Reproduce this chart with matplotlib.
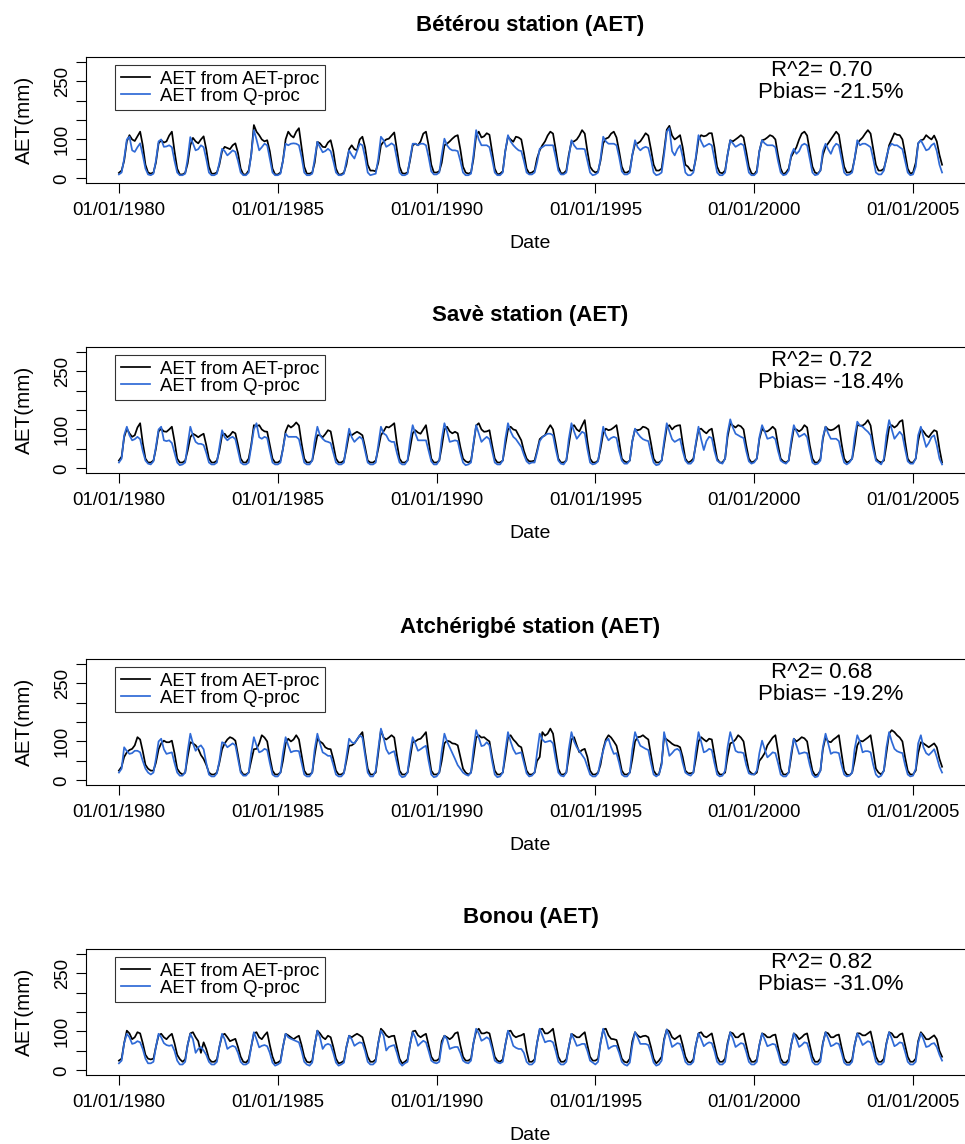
import numpy as np
import pandas as pd
import matplotlib
matplotlib.use("Agg")
import matplotlib.pyplot as plt

plt.rcParams['font.family'] = ['Liberation Sans', 'DejaVu Sans']

# monthly AET (mm), one row per year 1980..2005, Jan..Dec
beterou_aet = [
    [14, 20, 45, 95, 111, 100, 96, 108, 120, 85, 35, 15],
    [12, 15, 40, 90, 98, 92, 95, 110, 120, 70, 25, 10],
    [10, 14, 38, 85, 104, 95, 90, 100, 108, 75, 30, 12],
    [12, 15, 35, 70, 81, 78, 75, 85, 90, 65, 25, 10],
    [10, 20, 60, 137, 120, 111, 100, 95, 98, 70, 25, 10],
    [10, 15, 45, 100, 120, 110, 105, 120, 129, 80, 30, 12],
    [12, 15, 40, 94, 90, 81, 80, 92, 98, 70, 25, 10],
    [10, 15, 35, 75, 85, 75, 72, 100, 107, 80, 35, 20],
    [20, 18, 40, 85, 94, 100, 102, 110, 118, 75, 30, 13],
    [12, 15, 45, 85, 89, 85, 95, 115, 120, 85, 35, 15],
    [15, 18, 40, 85, 89, 95, 102, 108, 111, 75, 30, 15],
    [12, 15, 50, 110, 120, 105, 108, 116, 112, 70, 25, 10],
    [12, 18, 70, 107, 100, 94, 107, 105, 100, 65, 25, 13],
    [15, 20, 51, 72, 85, 95, 110, 120, 115, 75, 30, 13],
    [13, 20, 60, 94, 95, 100, 110, 124, 115, 70, 30, 20],
    [15, 18, 45, 90, 102, 105, 115, 120, 105, 70, 30, 15],
    [15, 20, 60, 89, 90, 95, 105, 116, 110, 75, 35, 20],
    [20, 25, 70, 125, 135, 110, 100, 105, 111, 80, 35, 30],
    [20, 20, 50, 100, 111, 108, 110, 116, 116, 80, 30, 15],
    [13, 20, 60, 98, 95, 100, 105, 111, 105, 70, 30, 13],
    [10, 20, 70, 98, 100, 105, 111, 108, 100, 60, 25, 10],
    [15, 25, 55, 68, 80, 100, 115, 120, 110, 70, 30, 15],
    [12, 20, 60, 81, 90, 100, 110, 120, 112, 70, 30, 15],
    [15, 20, 50, 90, 98, 105, 115, 124, 115, 75, 35, 20],
    [20, 25, 50, 85, 100, 116, 112, 111, 100, 65, 25, 12],
    [15, 40, 90, 98, 100, 111, 105, 100, 110, 95, 60, 35],
]
beterou_q = [
    [10, 15, 50, 100, 107, 72, 68, 80, 90, 60, 25, 10],
    [8, 12, 45, 95, 100, 81, 82, 85, 80, 45, 15, 8],
    [8, 12, 50, 106, 90, 72, 75, 85, 80, 50, 15, 8],
    [8, 12, 40, 76, 70, 59, 65, 72, 68, 45, 15, 8],
    [8, 15, 60, 124, 100, 72, 80, 89, 85, 50, 15, 8],
    [8, 12, 45, 89, 85, 89, 90, 89, 85, 55, 15, 8],
    [8, 12, 50, 94, 80, 67, 70, 76, 70, 45, 15, 8],
    [8, 12, 45, 72, 60, 51, 70, 89, 85, 55, 15, 8],
    [10, 12, 50, 107, 98, 81, 85, 90, 85, 50, 15, 8],
    [8, 12, 50, 89, 89, 85, 89, 89, 85, 55, 18, 10],
    [10, 15, 60, 102, 85, 76, 72, 72, 70, 45, 15, 8],
    [8, 12, 60, 124, 100, 85, 85, 85, 80, 50, 15, 8],
    [8, 15, 70, 111, 95, 85, 78, 72, 70, 45, 15, 10],
    [10, 15, 40, 76, 80, 85, 85, 85, 85, 55, 20, 10],
    [10, 15, 55, 98, 85, 76, 76, 76, 75, 45, 15, 8],
    [10, 15, 50, 107, 95, 89, 89, 89, 85, 55, 18, 10],
    [10, 15, 60, 98, 80, 72, 78, 81, 78, 50, 15, 8],
    [10, 15, 60, 120, 129, 70, 59, 75, 85, 55, 15, 8],
    [8, 15, 55, 111, 95, 81, 85, 89, 85, 50, 15, 8],
    [8, 15, 60, 98, 90, 81, 85, 89, 85, 50, 15, 8],
    [8, 15, 70, 98, 90, 85, 85, 85, 80, 45, 15, 8],
    [10, 20, 60, 76, 63, 70, 85, 89, 85, 50, 15, 8],
    [10, 20, 70, 89, 75, 63, 80, 89, 85, 50, 15, 8],
    [10, 15, 50, 98, 85, 89, 89, 85, 80, 50, 15, 10],
    [10, 20, 55, 80, 89, 85, 85, 80, 75, 45, 15, 8],
    [10, 30, 90, 98, 85, 72, 75, 85, 90, 70, 35, 15],
]
save_aet = [
    [20, 30, 80, 102, 90, 81, 85, 105, 116, 65, 25, 15],
    [15, 20, 50, 95, 102, 95, 94, 100, 107, 70, 25, 15],
    [15, 20, 45, 80, 89, 85, 80, 85, 89, 60, 25, 15],
    [15, 20, 45, 85, 89, 80, 85, 94, 90, 60, 25, 15],
    [15, 25, 60, 111, 108, 111, 100, 95, 94, 60, 25, 15],
    [15, 20, 50, 95, 111, 105, 110, 118, 110, 65, 25, 15],
    [15, 20, 50, 85, 85, 80, 88, 98, 95, 60, 25, 15],
    [15, 20, 50, 89, 85, 90, 94, 90, 85, 55, 20, 15],
    [15, 20, 50, 85, 95, 107, 105, 110, 116, 65, 25, 15],
    [15, 20, 50, 90, 98, 92, 89, 100, 111, 70, 25, 15],
    [15, 20, 55, 100, 107, 95, 90, 94, 90, 55, 25, 18],
    [15, 20, 60, 110, 116, 100, 94, 95, 98, 60, 25, 15],
    [15, 20, 60, 100, 107, 100, 98, 85, 72, 45, 25, 18],
    [18, 20, 45, 75, 81, 85, 100, 111, 100, 65, 25, 15],
    [15, 20, 60, 105, 111, 100, 95, 110, 124, 70, 25, 15],
    [15, 20, 50, 90, 102, 98, 100, 105, 111, 70, 25, 18],
    [15, 20, 70, 100, 98, 100, 107, 105, 100, 65, 25, 15],
    [15, 20, 60, 105, 111, 100, 107, 110, 111, 65, 25, 15],
    [18, 25, 60, 100, 102, 95, 90, 98, 102, 65, 25, 15],
    [15, 25, 80, 116, 110, 105, 111, 108, 100, 60, 25, 15],
    [18, 25, 75, 102, 95, 95, 100, 107, 100, 60, 25, 18],
    [15, 20, 60, 102, 100, 95, 100, 111, 105, 60, 25, 15],
    [15, 25, 75, 107, 100, 98, 100, 105, 111, 65, 25, 15],
    [18, 25, 60, 111, 110, 110, 115, 124, 110, 65, 25, 18],
    [15, 20, 60, 105, 111, 105, 110, 120, 124, 70, 25, 15],
    [15, 25, 70, 102, 95, 85, 80, 90, 98, 95, 50, 15],
]
save_q = [
    [15, 25, 85, 107, 85, 72, 75, 81, 75, 45, 20, 12],
    [10, 18, 55, 100, 107, 72, 70, 72, 65, 40, 15, 8],
    [10, 15, 60, 107, 85, 68, 63, 63, 60, 40, 15, 10],
    [10, 15, 55, 98, 80, 72, 78, 81, 75, 45, 15, 10],
    [10, 15, 55, 100, 116, 80, 76, 81, 78, 45, 15, 10],
    [10, 15, 50, 89, 81, 81, 81, 81, 75, 45, 15, 10],
    [10, 20, 70, 107, 85, 76, 70, 68, 65, 40, 15, 10],
    [10, 15, 60, 102, 80, 68, 75, 81, 75, 45, 15, 10],
    [10, 15, 60, 107, 90, 85, 72, 68, 68, 40, 15, 10],
    [10, 20, 70, 111, 90, 72, 72, 72, 72, 45, 18, 10],
    [10, 20, 75, 116, 95, 68, 70, 72, 70, 40, 15, 8],
    [10, 15, 65, 111, 90, 68, 75, 81, 75, 45, 15, 10],
    [10, 20, 75, 116, 95, 81, 75, 65, 55, 35, 18, 12],
    [15, 15, 40, 70, 80, 85, 89, 89, 85, 50, 20, 12],
    [10, 20, 75, 116, 95, 76, 85, 94, 90, 50, 15, 10],
    [12, 18, 60, 107, 85, 72, 78, 81, 78, 45, 20, 12],
    [12, 20, 70, 102, 90, 81, 75, 72, 70, 40, 15, 8],
    [10, 20, 70, 116, 95, 75, 68, 72, 76, 45, 20, 12],
    [12, 20, 65, 107, 75, 47, 70, 81, 78, 45, 20, 15],
    [12, 25, 90, 126, 105, 89, 85, 81, 78, 45, 18, 12],
    [15, 25, 80, 111, 95, 76, 78, 81, 75, 45, 20, 15],
    [12, 20, 70, 111, 95, 81, 85, 89, 80, 45, 15, 10],
    [12, 20, 80, 107, 90, 76, 76, 76, 70, 40, 15, 10],
    [15, 25, 80, 120, 110, 107, 100, 94, 85, 50, 20, 15],
    [10, 25, 85, 124, 100, 76, 85, 94, 85, 50, 18, 12],
    [12, 25, 85, 107, 80, 55, 65, 80, 85, 60, 25, 10],
]
atcherigbe_aet = [
    [25, 35, 60, 72, 78, 81, 90, 111, 105, 75, 40, 30],
    [25, 25, 45, 80, 95, 102, 98, 98, 102, 70, 30, 20],
    [15, 20, 60, 98, 95, 90, 81, 65, 55, 40, 20, 15],
    [15, 20, 45, 80, 95, 105, 111, 108, 102, 65, 25, 15],
    [15, 20, 50, 80, 81, 95, 116, 110, 100, 60, 25, 15],
    [15, 20, 50, 95, 107, 100, 105, 116, 105, 65, 25, 15],
    [15, 20, 65, 107, 100, 95, 85, 81, 80, 55, 25, 15],
    [15, 20, 50, 89, 90, 95, 105, 115, 124, 75, 30, 15],
    [15, 20, 70, 129, 110, 105, 110, 116, 110, 65, 25, 15],
    [15, 20, 55, 98, 100, 105, 107, 115, 124, 70, 25, 15],
    [15, 20, 50, 95, 102, 100, 95, 94, 90, 60, 30, 20],
    [15, 20, 60, 110, 116, 110, 111, 105, 100, 60, 25, 15],
    [15, 20, 60, 110, 116, 105, 98, 89, 85, 55, 25, 15],
    [15, 20, 50, 60, 124, 115, 120, 133, 120, 75, 30, 15],
    [15, 20, 60, 105, 111, 90, 72, 78, 81, 60, 25, 15],
    [15, 20, 40, 80, 105, 116, 110, 100, 89, 60, 25, 15],
    [15, 20, 55, 100, 111, 112, 116, 110, 105, 65, 25, 15],
    [15, 45, 111, 105, 100, 94, 90, 89, 85, 60, 25, 18],
    [18, 20, 55, 100, 111, 105, 100, 107, 105, 65, 25, 15],
    [15, 20, 60, 95, 98, 105, 116, 110, 100, 60, 25, 18],
    [15, 20, 50, 59, 70, 90, 100, 110, 116, 75, 30, 15],
    [15, 20, 60, 107, 100, 105, 111, 108, 100, 60, 25, 13],
    [15, 25, 80, 111, 100, 98, 105, 110, 116, 70, 25, 15],
    [13, 20, 50, 90, 102, 100, 105, 110, 116, 75, 30, 20],
    [15, 25, 70, 120, 129, 124, 116, 110, 100, 60, 25, 15],
    [15, 25, 70, 98, 95, 90, 85, 90, 95, 85, 55, 35],
]
atcherigbe_q = [
    [20, 30, 85, 75, 68, 70, 76, 76, 72, 50, 30, 20],
    [15, 20, 55, 100, 107, 80, 68, 70, 72, 45, 20, 12],
    [12, 20, 75, 120, 95, 76, 85, 90, 80, 45, 15, 10],
    [10, 18, 50, 98, 95, 85, 90, 95, 90, 55, 20, 12],
    [12, 20, 70, 111, 90, 72, 75, 81, 78, 45, 15, 10],
    [10, 20, 70, 111, 90, 72, 75, 76, 75, 45, 15, 10],
    [10, 20, 80, 120, 95, 72, 68, 63, 63, 40, 15, 10],
    [10, 18, 60, 107, 98, 95, 105, 116, 110, 65, 20, 10],
    [10, 25, 80, 133, 110, 80, 68, 72, 75, 45, 15, 8],
    [10, 20, 70, 111, 95, 76, 80, 85, 89, 50, 15, 8],
    [10, 20, 75, 120, 100, 85, 70, 55, 39, 30, 20, 15],
    [12, 20, 80, 129, 110, 88, 90, 98, 90, 50, 15, 8],
    [10, 20, 75, 124, 100, 80, 68, 70, 72, 45, 18, 10],
    [12, 20, 70, 120, 105, 98, 100, 102, 95, 55, 20, 12],
    [10, 20, 80, 124, 100, 85, 75, 65, 55, 35, 15, 10],
    [10, 18, 50, 76, 100, 107, 85, 68, 70, 45, 15, 10],
    [10, 20, 80, 124, 105, 89, 85, 81, 78, 45, 15, 10],
    [15, 40, 124, 95, 63, 70, 78, 81, 75, 45, 20, 15],
    [12, 20, 75, 124, 100, 72, 75, 81, 78, 45, 15, 10],
    [12, 25, 85, 124, 100, 76, 72, 72, 70, 40, 18, 15],
    [15, 25, 70, 102, 80, 59, 65, 72, 70, 45, 15, 10],
    [10, 20, 70, 107, 90, 68, 70, 72, 70, 40, 15, 8],
    [10, 25, 85, 120, 95, 68, 72, 72, 70, 40, 15, 10],
    [12, 20, 80, 116, 100, 72, 75, 75, 72, 40, 15, 8],
    [12, 25, 85, 124, 100, 81, 75, 72, 70, 40, 15, 10],
    [12, 30, 95, 116, 85, 70, 65, 72, 80, 60, 35, 20],
]
bonou_aet = [
    [25, 30, 70, 102, 95, 80, 85, 98, 95, 70, 40, 30],
    [28, 30, 60, 90, 94, 85, 80, 88, 94, 70, 40, 29],
    [22, 28, 65, 95, 98, 85, 75, 45, 72, 55, 30, 22],
    [22, 28, 60, 90, 94, 85, 75, 78, 81, 60, 35, 22],
    [20, 28, 60, 95, 98, 85, 80, 90, 98, 65, 35, 18],
    [20, 25, 60, 94, 90, 85, 80, 85, 89, 65, 35, 22],
    [20, 25, 65, 102, 95, 85, 80, 89, 85, 60, 30, 18],
    [20, 25, 60, 89, 85, 90, 94, 90, 85, 60, 35, 22],
    [22, 28, 70, 107, 100, 90, 85, 88, 89, 60, 30, 18],
    [22, 28, 65, 100, 102, 90, 85, 90, 94, 65, 35, 25],
    [25, 30, 75, 89, 85, 80, 85, 95, 98, 65, 35, 25],
    [25, 30, 70, 100, 107, 95, 95, 98, 95, 65, 35, 25],
    [22, 28, 65, 100, 102, 90, 85, 88, 90, 94, 50, 22],
    [22, 28, 70, 105, 107, 95, 95, 100, 107, 70, 35, 22],
    [22, 28, 60, 94, 90, 85, 85, 92, 98, 65, 35, 25],
    [25, 30, 70, 105, 107, 90, 81, 80, 78, 55, 30, 22],
    [20, 30, 75, 98, 90, 85, 88, 89, 85, 60, 30, 18],
    [25, 35, 80, 105, 100, 85, 80, 85, 90, 65, 35, 22],
    [20, 28, 65, 95, 98, 88, 85, 90, 95, 65, 35, 22],
    [22, 30, 70, 98, 95, 85, 85, 92, 95, 65, 35, 22],
    [22, 28, 65, 95, 92, 85, 85, 90, 92, 60, 30, 20],
    [20, 28, 65, 95, 90, 80, 85, 92, 95, 65, 35, 22],
    [22, 30, 70, 98, 95, 85, 85, 90, 92, 60, 30, 20],
    [20, 28, 65, 95, 95, 90, 90, 95, 100, 70, 35, 22],
    [22, 30, 70, 98, 95, 85, 85, 92, 95, 65, 35, 22],
    [22, 30, 75, 98, 90, 80, 80, 85, 90, 80, 50, 35],
]
bonou_q = [
    [18, 25, 70, 94, 85, 68, 70, 75, 72, 55, 30, 18],
    [18, 22, 60, 94, 85, 70, 65, 63, 65, 50, 25, 15],
    [15, 22, 65, 94, 80, 45, 55, 60, 51, 40, 22, 15],
    [15, 22, 60, 94, 80, 55, 60, 63, 60, 45, 22, 15],
    [15, 20, 60, 98, 80, 59, 63, 65, 62, 45, 20, 12],
    [15, 20, 60, 94, 85, 81, 78, 75, 72, 50, 22, 15],
    [12, 20, 65, 102, 85, 55, 65, 68, 65, 45, 20, 12],
    [15, 20, 60, 89, 80, 63, 68, 72, 70, 50, 22, 15],
    [15, 22, 70, 102, 90, 51, 60, 63, 65, 45, 20, 12],
    [18, 22, 65, 98, 85, 63, 70, 76, 72, 50, 25, 20],
    [18, 22, 65, 89, 80, 55, 58, 60, 60, 45, 25, 20],
    [18, 25, 70, 107, 95, 76, 80, 85, 80, 55, 25, 20],
    [18, 22, 65, 102, 85, 63, 58, 55, 55, 45, 22, 15],
    [15, 22, 70, 107, 90, 72, 75, 76, 72, 50, 22, 15],
    [15, 22, 60, 94, 80, 63, 65, 68, 68, 50, 25, 20],
    [15, 22, 70, 107, 85, 55, 60, 63, 63, 45, 22, 15],
    [12, 20, 65, 98, 85, 68, 68, 68, 65, 45, 20, 12],
    [15, 25, 75, 105, 85, 60, 65, 70, 68, 48, 22, 15],
    [15, 22, 65, 95, 80, 62, 68, 72, 70, 50, 22, 15],
    [15, 22, 65, 98, 82, 60, 65, 70, 68, 48, 22, 15],
    [15, 22, 65, 95, 80, 62, 65, 68, 66, 46, 20, 14],
    [14, 22, 65, 95, 80, 60, 65, 72, 70, 48, 22, 15],
    [15, 22, 68, 98, 82, 62, 65, 70, 68, 46, 20, 14],
    [14, 22, 65, 95, 82, 65, 70, 75, 72, 50, 22, 15],
    [15, 22, 68, 98, 82, 62, 66, 72, 70, 48, 22, 15],
    [15, 22, 70, 95, 80, 60, 62, 68, 70, 60, 40, 25],
]

titles = ["Bétérou station (AET)", "Savè station (AET)",
          "Atchérigbé station (AET)", "Bonou (AET)"]
r2 = [0.70, 0.72, 0.68, 0.82]
pbias = [-21.5, -18.4, -19.2, -31.0]
tick_years = [1980, 1985, 1990, 1995, 2000, 2005]

series = [(beterou_aet, beterou_q), (save_aet, save_q),
          (atcherigbe_aet, atcherigbe_q), (bonou_aet, bonou_q)]

dates = pd.date_range("1980-01-01", periods=312, freq="MS")
blue = "#2f6ad6"

W, H = 965, 1144
fig = plt.figure(figsize=(W / 100, H / 100), dpi=100)

tops = [57, 347, 659, 949]
left, right, height = 86, 975, 126
fs = 13.4

for i, (aet, q) in enumerate(series):
    top = tops[i]
    ax = fig.add_axes([left / W, 1 - (top + height) / H, (right - left) / W, height / H])
    ax.plot(dates, np.ravel(aet), color="black", lw=1.25, label="AET from AET-proc")
    ax.plot(dates, np.ravel(q), color=blue, lw=1.25, label="AET from Q-proc")

    span = dates[-1] - dates[0]
    ax.set_xlim(dates[0] - 0.04 * span, dates[-1] + 0.04 * span)
    ax.set_ylim(-12, 312)

    ticks = pd.to_datetime([f"{y}-01-01" for y in tick_years])
    ax.set_xticks(ticks)
    ax.set_xticklabels([t.strftime("%d/%m/%Y") for t in ticks], fontsize=fs)
    ax.set_yticks(range(0, 301, 50))
    ax.set_yticklabels(["0", "", "100", "", "", "250", ""], fontsize=fs,
                       rotation=90, va="center")
    ax.tick_params(direction="out", length=7, width=0.8)
    ax.tick_params(axis="x", pad=7)
    ax.tick_params(axis="y", pad=4)
    for s in ax.spines.values():
        s.set_linewidth(0.8)

    ax.set_xlabel("Date", fontsize=fs + 0.6, labelpad=11)
    ax.set_ylabel("AET(mm)", fontsize=fs + 1.5, labelpad=14)
    ax.set_title(titles[i], fontsize=16, fontweight="bold", pad=19)

    leg = ax.legend(loc="upper left", bbox_to_anchor=(29 / (right - left), 0.935),
                    fontsize=fs, frameon=True, fancybox=False, handlelength=1.6,
                    handletextpad=0.5, labelspacing=0.0, borderpad=0.3,
                    borderaxespad=0)
    leg.get_frame().set_edgecolor("black")
    leg.get_frame().set_linewidth(0.8)

    fig.text(822 / W, 1 - (top + 13) / H, f"R^2= {r2[i]:.2f}", fontsize=16,
             ha="center", va="center")
    fig.text(831 / W, 1 - (top + 36) / H, f"Pbias= {pbias[i]:.1f}%", fontsize=16,
             ha="center", va="center")

fig.savefig("out.png", dpi=100)
